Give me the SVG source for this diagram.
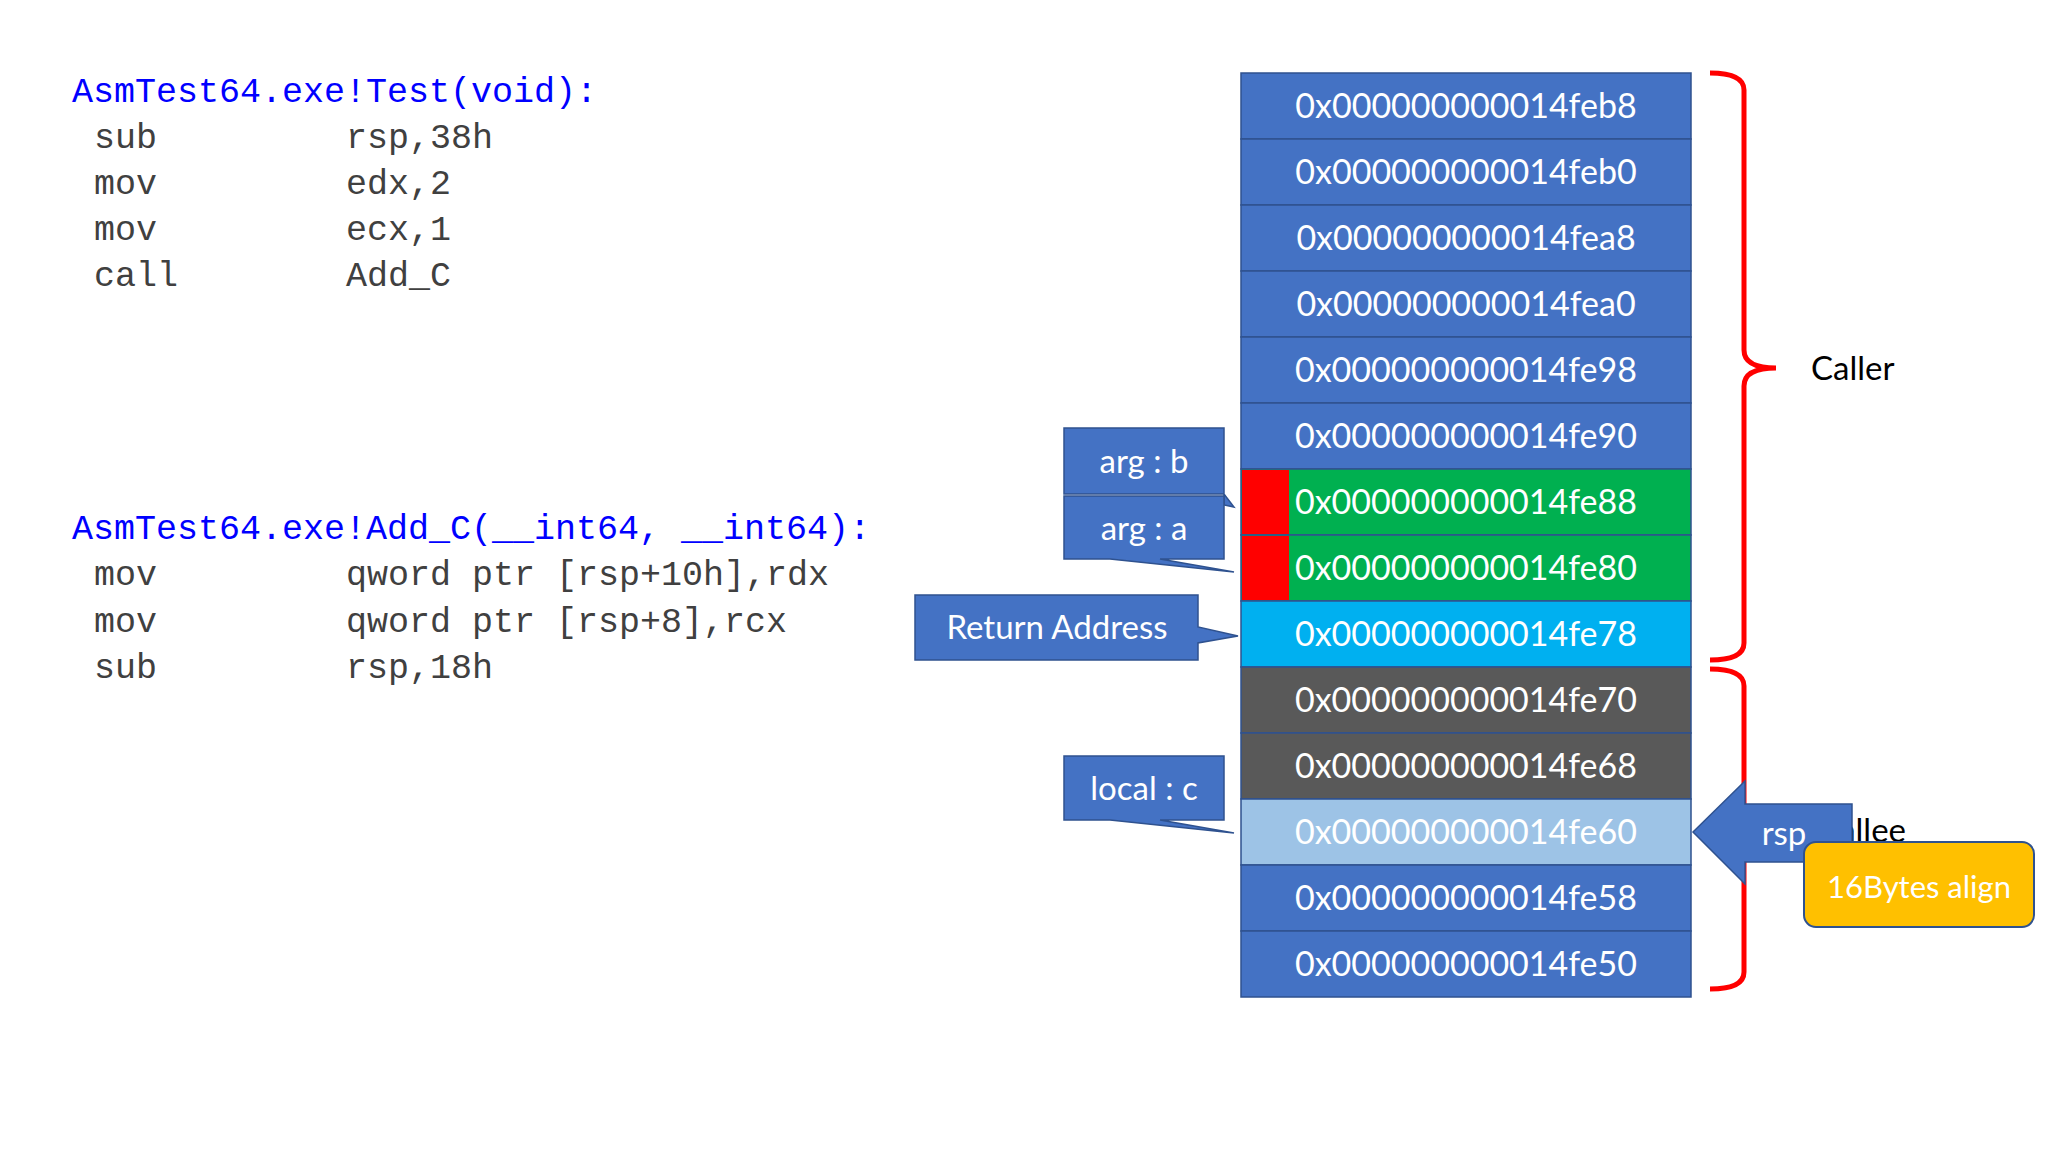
<svg xmlns="http://www.w3.org/2000/svg" width="2048" height="1152" viewBox="0 0 2048 1152">
<style>
.code{font-family:"Liberation Mono",monospace;font-size:35px;fill:#404040}
.ttl{font-family:"Liberation Mono",monospace;font-size:35px;fill:#0000FF}
.addr{font-family:Lato,"Open Sans",sans-serif;font-size:34px;fill:#fff;text-anchor:middle}
.cell{stroke:#2F528F;stroke-width:1.5}
.call{fill:#4472C4;stroke:#2F528F;stroke-width:1.5}
.lbl{font-family:Lato,"Open Sans",sans-serif;font-size:33px;fill:#fff;text-anchor:middle}
.brace{fill:none;stroke:#FF0000;stroke-width:5}
.blk{font-family:Lato,"Open Sans",sans-serif;font-size:33px;fill:#000}
</style>
<rect width="2048" height="1152" fill="#fff"/>
<g id="code1">
<text class="ttl" x="72" y="102">AsmTest64.exe!Test(void):</text>
<text class="code" x="94" y="148">sub</text><text class="code" x="346" y="148">rsp,38h</text>
<text class="code" x="94" y="194">mov</text><text class="code" x="346" y="194">edx,2</text>
<text class="code" x="94" y="240">mov</text><text class="code" x="346" y="240">ecx,1</text>
<text class="code" x="94" y="286">call</text><text class="code" x="346" y="286">Add_C</text>
</g>
<g id="code2">
<text class="ttl" x="72" y="539">AsmTest64.exe!Add_C(__int64, __int64):</text>
<text class="code" x="94" y="585">mov</text><text class="code" x="346" y="585">qword ptr [rsp+10h],rdx</text>
<text class="code" x="94" y="632">mov</text><text class="code" x="346" y="632">qword ptr [rsp+8],rcx</text>
<text class="code" x="94" y="678">sub</text><text class="code" x="346" y="678">rsp,18h</text>
</g>
<g id="stack">
<rect class="cell" x="1241" y="73" width="450" height="66" fill="#4472C4"/>
<rect class="cell" x="1241" y="139" width="450" height="66" fill="#4472C4"/>
<rect class="cell" x="1241" y="205" width="450" height="66" fill="#4472C4"/>
<rect class="cell" x="1241" y="271" width="450" height="66" fill="#4472C4"/>
<rect class="cell" x="1241" y="337" width="450" height="66" fill="#4472C4"/>
<rect class="cell" x="1241" y="403" width="450" height="66" fill="#4472C4"/>
<rect class="cell" x="1241" y="469" width="450" height="66" fill="#00B050"/>
<rect x="1242" y="470" width="47" height="64" fill="#FF0000"/>
<rect class="cell" x="1241" y="535" width="450" height="66" fill="#00B050"/>
<rect x="1242" y="536" width="47" height="64" fill="#FF0000"/>
<rect class="cell" x="1241" y="601" width="450" height="66" fill="#00B0F0"/>
<rect class="cell" x="1241" y="667" width="450" height="66" fill="#595959"/>
<rect class="cell" x="1241" y="733" width="450" height="66" fill="#595959"/>
<rect class="cell" x="1241" y="799" width="450" height="66" fill="#9DC3E6"/>
<rect class="cell" x="1241" y="865" width="450" height="66" fill="#4472C4"/>
<rect class="cell" x="1241" y="931" width="450" height="66" fill="#4472C4"/>
<text class="addr" x="1466" y="118">0x000000000014feb8</text>
<text class="addr" x="1466" y="184">0x000000000014feb0</text>
<text class="addr" x="1466" y="250">0x000000000014fea8</text>
<text class="addr" x="1466" y="316">0x000000000014fea0</text>
<text class="addr" x="1466" y="382">0x000000000014fe98</text>
<text class="addr" x="1466" y="448">0x000000000014fe90</text>
<text class="addr" x="1466" y="514">0x000000000014fe88</text>
<text class="addr" x="1466" y="580">0x000000000014fe80</text>
<text class="addr" x="1466" y="646">0x000000000014fe78</text>
<text class="addr" x="1466" y="712">0x000000000014fe70</text>
<text class="addr" x="1466" y="778">0x000000000014fe68</text>
<text class="addr" x="1466" y="844">0x000000000014fe60</text>
<text class="addr" x="1466" y="910">0x000000000014fe58</text>
<text class="addr" x="1466" y="976">0x000000000014fe50</text>
</g>
<g id="arg_b"><path class="call" d="M1064,428 H1224 V494 V505 L1234,507 L1224,494 H1064 Z"/><text class="lbl" x="1144" y="473">arg : b</text></g>
<g id="arg_a"><path class="call" d="M1064,496 H1224 V559 H1160 L1234,572 L1110,559 H1064 Z"/><text class="lbl" x="1144" y="540">arg : a</text></g>
<g id="ret"><path class="call" d="M915,595 H1198 V627 L1238,636 L1198,643 V660 H915 Z"/><text class="lbl" x="1057" y="639">Return Address</text></g>
<g id="local_c"><path class="call" d="M1064,756 H1224 V820 H1160 L1234,833 L1110,820 H1064 Z"/><text class="lbl" x="1144" y="800">local : c</text></g>
<g id="braces">
<path class="brace" d="M1710,73 Q1744,73 1744,90 V350 Q1744,368 1776,368 Q1744,368 1744,386 V643 Q1744,660 1710,660"/>
<path class="brace" d="M1710,669 Q1744,669 1744,686 V812 Q1744,830 1760,830 Q1744,830 1744,848 V972 Q1744,989 1710,989"/>
<text class="blk" x="1811" y="380">Caller</text>
<text class="blk" x="1906" y="842" text-anchor="end">Callee</text>
</g>
<g id="rsp"><path d="M1693,832 L1745,781 V804 H1852 V862 H1745 V884 Z" fill="#4472C4" stroke="#2F528F" stroke-width="1.5"/><text class="lbl" x="1784" y="845">rsp</text></g>
<g id="align"><rect x="1804" y="842" width="230" height="85" rx="12" fill="#FFC000" stroke="#2F528F" stroke-width="2"/><text class="lbl" x="1919" y="898" style="font-size:31px">16Bytes align</text></g>
</svg>
